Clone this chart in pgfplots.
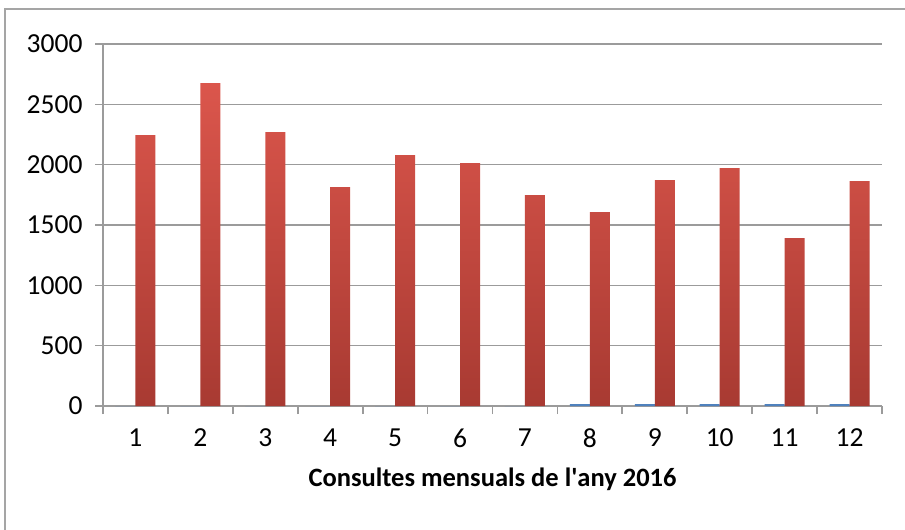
\documentclass[border=0pt]{standalone}
\usepackage{pgfplots}
\pgfplotsset{compat=1.18}
\usepackage{fontspec}
\setmainfont{Carlito}
\definecolor{gridgray}{RGB}{155,155,155}
\definecolor{framegray}{RGB}{165,165,165}
\definecolor{redtop}{RGB}{219,86,76}
\definecolor{redbot}{RGB}{168,58,50}
\definecolor{bluebar}{RGB}{79,129,189}
\begin{document}
\begin{tikzpicture}[x=1bp,y=1bp]
\path[use as bounding box] (0,0) rectangle (905,-530);
\draw[framegray, line width=2bp] (5,-531) -- (5,-9) -- (906,-9);
\begin{axis}[
  at={(103bp,-406bp)}, anchor=south west,
  scale only axis, width=779bp, height=362bp,
  ymin=0, ymax=3000, ytick={0,500,...,3000},
  xmin=0.5, xmax=12.5,
  xtick={1,...,12},
  minor xtick={0.5,1.5,...,12.5},
  major x tick style={draw=none},
  minor tick length=8bp,
  major tick length=8bp,
  tick align=outside,
  tick pos=left,
  ymajorgrids,
  grid style={gridgray, line width=1.3bp},
  y tick style={gridgray, line width=1.3bp},
  minor x tick style={gridgray, line width=1.8bp},
  axis x line*=bottom, axis y line*=left,
  x axis line style={gridgray, line width=2bp, -},
  y axis line style={gridgray, line width=1.3bp, -},
  /pgf/number format/assume math mode=true,
  /pgf/number format/1000 sep={},
  tick label style={font=\fontsize{27.5bp}{32bp}\selectfont},
  yticklabel style={xshift=-9bp},
  xticklabel style={yshift=-11bp},
  xlabel={\textbf{Consultes mensuals de l\textquotesingle any 2016}},
  xlabel style={font=\fontsize{26.5bp}{30bp}\selectfont, yshift=-14bp},
  ybar=0pt, bar width=20bp,
  clip=false,
]
\addplot[draw=none, fill=bluebar] coordinates {
(1,0) (2,0) (3,0) (4,0) (5,0) (6,0) (7,0) (8,15) (9,15) (10,15) (11,15) (12,15)};
\addplot[draw=none, top color=redtop, bottom color=redbot] coordinates {
(1,2245) (2,2676) (3,2270) (4,1814) (5,2080) (6,2013) (7,1748) (8,1607) (9,1872) (10,1972) (11,1392) (12,1864)};
\end{axis}
\end{tikzpicture}
\end{document}
